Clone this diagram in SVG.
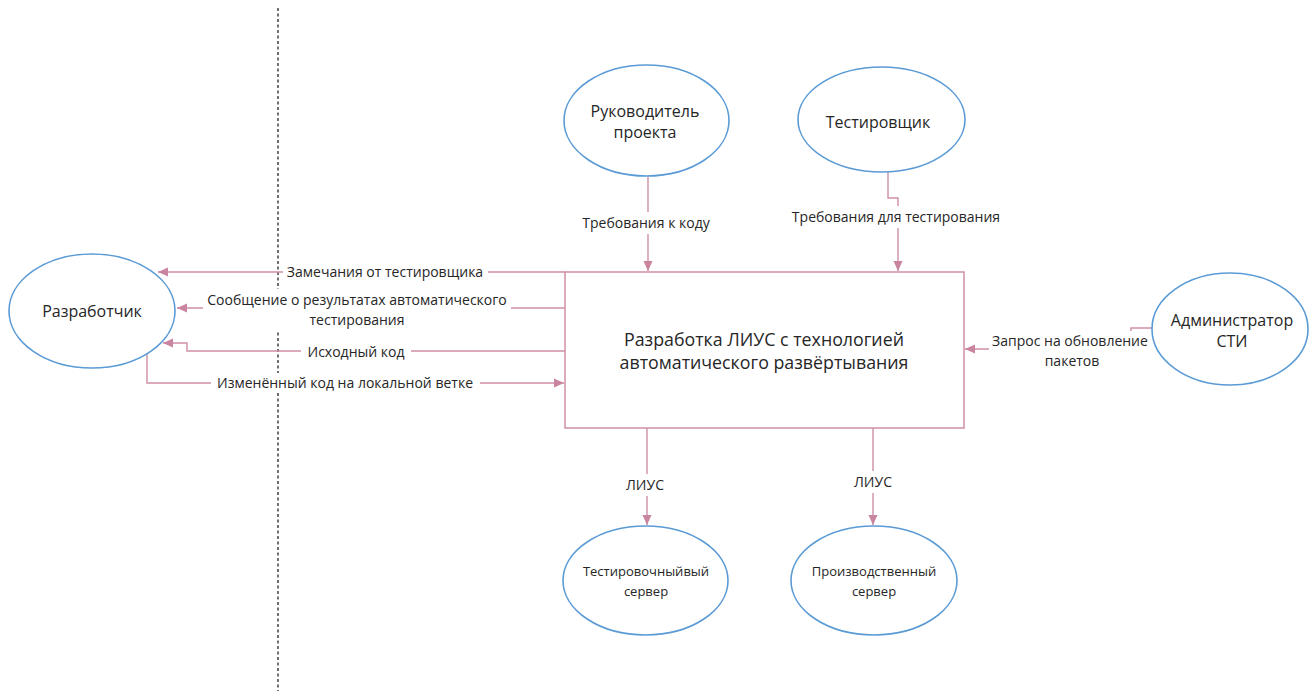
<svg xmlns="http://www.w3.org/2000/svg" width="1311" height="691" viewBox="0 0 1311 691">
<style>
.node{fill:#ffffff;stroke:#5b9bd5;stroke-width:1.6}
.box{fill:#ffffff;stroke:#cf8ea8;stroke-width:1.5}
.conn{fill:none;stroke:#cf8ea8;stroke-width:1.4}
.bg{fill:#ffffff}
text{font-family:"Open Sans","Noto Sans","Liberation Sans",sans-serif;fill:#262626;text-anchor:middle}
.nl{font-size:16px}
.sl{font-size:13px}
.lb{font-size:14px}
.tl{font-size:17.8px}
</style>
<defs>
<marker id="ah" viewBox="0 0 10 10" refX="10" refY="5" markerWidth="10" markerHeight="10" markerUnits="userSpaceOnUse" orient="auto">
<path d="M0,0.5 L10,5 L0,9.5 z" fill="#c9849f"/>
</marker>
</defs>
<line x1="278" y1="8" x2="278" y2="691" stroke="#111" stroke-width="1.2" stroke-dasharray="3,2.5"/>
<g id="connectors">
<path class="conn" d="M648,177 V271" marker-end="url(#ah)"/>
<path class="conn" d="M888,172 V198 H898 V271" marker-end="url(#ah)"/>
<path class="conn" d="M565,272 H158" marker-end="url(#ah)"/>
<path class="conn" d="M565,308 H177" marker-end="url(#ah)"/>
<path class="conn" d="M565,351 H187 V343 H163" marker-end="url(#ah)"/>
<path class="conn" d="M147,354 V383 H564" marker-end="url(#ah)"/>
<path class="conn" d="M1153,328 H1131 V349 H965" marker-end="url(#ah)"/>
<path class="conn" d="M647,428 V525" marker-end="url(#ah)"/>
<path class="conn" d="M873,428 V525" marker-end="url(#ah)"/>
<rect class="bg" x="576" y="212" width="140" height="22"/>
<text class="lb" x="646" y="228">Требования к коду</text>
<rect class="bg" x="786" y="206" width="220" height="22"/>
<text class="lb" x="896" y="222">Требования для тестирования</text>
<rect class="bg" x="283" y="262" width="205" height="20"/>
<text class="lb" x="385" y="277">Замечания от тестировщика</text>
<rect class="bg" x="203" y="289" width="308" height="43"/>
<text class="lb" x="357" y="305">Сообщение о результатах автоматического</text>
<text class="lb" x="357" y="325">тестирования</text>
<rect class="bg" x="301" y="341" width="110" height="21"/>
<text class="lb" x="356" y="357">Исходный код</text>
<rect class="bg" x="211" y="373" width="269" height="20"/>
<text class="lb" x="345" y="388">Изменённый код на локальной ветке</text>
<rect class="bg" x="989" y="331" width="162" height="41"/>
<text class="lb" x="1070" y="346">Запрос на обновление</text>
<text class="lb" x="1072" y="366">пакетов</text>
<rect class="bg" x="620" y="474" width="50" height="22"/>
<text class="lb" x="645" y="490">ЛИУС</text>
<rect class="bg" x="848" y="471" width="50" height="22"/>
<text class="lb" x="873" y="487">ЛИУС</text>
</g>
<g id="main">
<rect class="box" x="565" y="272" width="399" height="156"/>
<text class="tl" x="764" y="346">Разработка ЛИУС с технологией</text>
<text class="tl" x="764" y="369">автоматического развёртывания</text>
</g>
<g id="developer">
<ellipse class="node" cx="92" cy="311" rx="83" ry="57"/>
<text class="nl" x="92" y="317">Разработчик</text>
</g>
<g id="pm">
<ellipse class="node" cx="646.5" cy="120.5" rx="82.5" ry="55.5"/>
<text class="nl" x="645" y="117">Руководитель</text>
<text class="nl" x="645" y="138">проекта</text>
</g>
<g id="tester">
<ellipse class="node" cx="881.5" cy="119.5" rx="83.5" ry="52.5"/>
<text class="nl" x="878" y="128">Тестировщик</text>
</g>
<g id="admin">
<ellipse class="node" cx="1230" cy="329" rx="78" ry="56"/>
<text class="nl" x="1232" y="326">Администратор</text>
<text class="nl" x="1232" y="347">СТИ</text>
</g>
<g id="test-server">
<ellipse class="node" cx="645.5" cy="580.5" rx="82.5" ry="54.5"/>
<text class="sl" x="646" y="576">Тестировочныйвый</text>
<text class="sl" x="646" y="596">сервер</text>
</g>
<g id="prod-server">
<ellipse class="node" cx="874" cy="580.5" rx="83" ry="54.5"/>
<text class="sl" x="874" y="576">Производственный</text>
<text class="sl" x="874" y="596">сервер</text>
</g>
</svg>
